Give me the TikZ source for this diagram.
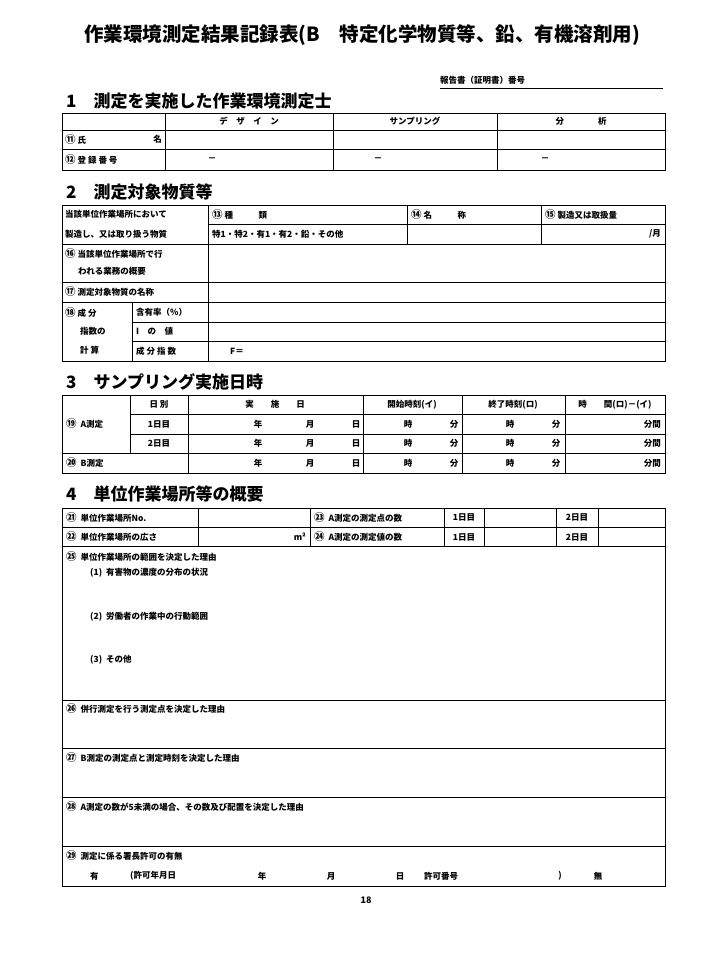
\documentclass[tikz,border=0pt]{standalone}
\usepackage{fontspec}
\setmainfont{Noto Sans CJK JP}
\newcommand\cn[1]{{\fontsize{10.5}{10}\selectfont #1}}
\begin{document}
\begin{tikzpicture}[x=1pt,y=-1pt,
  t/.style={font=\fontsize{8.5}{9}\selectfont\bfseries,inner sep=0pt},
  tl/.style={t,anchor=west},
  tr/.style={t,anchor=east},
  hd/.style={font=\fontsize{17}{18}\selectfont\bfseries,inner sep=0pt,anchor=west},
  ln/.style={line width=0.8pt},
  fr/.style={line width=1pt}]
\useasboundingbox (0,0) rectangle (714,967);
\node[font=\fontsize{19.5}{21}\selectfont\bfseries,inner sep=0pt] (title) at (362,35) {作業環境測定結果記録表(B\quad 特定化学物質等、鉛、有機溶剤用)};
\node[tl] (rep) at (440,80) {報告書（証明書）番号};
\coordinate (ra) at (440,88); \coordinate (rb) at (663,88);
\draw[ln] (ra) -- (rb);
% Section 1
\node[hd] (s1) at (66,101) {1\quad 測定を実施した作業環境測定士};
\draw[fr] (62,113) rectangle (665,170);
\draw[ln] (62,130) -- (665,130) (62,149) -- (665,149);
\draw[ln] (165,113) -- (165,170) (333,113) -- (333,170) (497,113) -- (497,170);
\node[t] (c1) at (249,121.5) {デ\quad ザ\quad イ\quad ン};
\node[t] (c2) at (415,121.5) {サンプリング};
\node[t] (c3) at (581,121.5) {分\qquad\qquad 析};
\node[tl] (r1) at (65,139.5) {\cn{⑪} 氏};
\node[tr] (r1b) at (162,139.5) {名};
\node[tl] (r2) at (65,159.5) {\cn{⑫} 登 録 番 号};
\node[t] (d1) at (212,159.5) {－}; \node[t] (d2) at (378,159.5) {－}; \node[t] (d3) at (545,159.5) {－};
% Section 2
\node[hd] (s2) at (66,192) {2\quad 測定対象物質等};
\draw[fr] (62,205) rectangle (665,361);
\draw[ln] (208,224) -- (665,224) (62,244) -- (665,244) (62,282) -- (665,282) (62,302) -- (665,302)
  (132,322) -- (665,322) (132,341) -- (665,341);
\draw[ln] (208,205) -- (208,361) (407,205) -- (407,244) (541,205) -- (541,244) (132,302) -- (132,361);
\node[tl] (a1) at (65,214.5) {当該単位作業場所において};
\node[tl] (a2) at (65,234) {製造し、又は取り扱う物質};
\node[tl] (a3) at (212,214.5) {\cn{⑬} 種\qquad\quad 類};
\node[tl] (a4) at (411,214.5) {\cn{⑭} 名\qquad\quad 称};
\node[tl] (a5) at (545,214.5) {\cn{⑮} 製造又は取扱量};
\node[tl] (a6) at (212,234) {特1・特2・有1・有2・鉛・その他};
\node[tr] (a7) at (661,234) {/月};
\node[tl] (a8) at (65,254) {\cn{⑯} 当該単位作業場所で行};
\node[tl] (a9) at (78,271) {われる業務の概要};
\node[tl] (a10) at (65,292) {\cn{⑰} 測定対象物質の名称};
\node[tl] (a11) at (65,313) {\cn{⑱} 成\ 分};
\node[tl] (a12) at (80,331.5) {指数の};
\node[tl] (a13) at (80,350) {計\ 算};
\node[tl] (a14) at (136,312) {含有率（\%）};
\node[tl] (a15) at (136,331.5) {\textit{I}\quad の\quad 値};
\node[tl] (a16) at (136,351) {成 分 指 数};
\node[tl] (a17) at (230,351) {\textit{F}＝};
% Section 3
\node[hd] (s3) at (66,382) {3\quad サンプリング実施日時};
\draw[fr] (62,395) rectangle (665,473);
\draw[ln] (130,414) -- (665,414) (130,434) -- (665,434) (62,453) -- (665,453);
\draw[ln] (130,395) -- (130,453) (188,395) -- (188,473) (363,395) -- (363,473) (462,395) -- (462,473) (565,395) -- (565,473);
\node[t] (b1) at (159,404.5) {日\ 別};
\node[t] (b2) at (275,404.5) {実\qquad 施\qquad 日};
\node[t] (b3) at (412,404.5) {開始時刻(イ)};
\node[t] (b4) at (513,404.5) {終了時刻(ロ)};
\node[t] (b5) at (615,404.5) {時\qquad 間(ロ)－(イ)};
\node[tl] (b6) at (66,424) {\cn{⑲}\ \ A測定};
\node[t] (b7) at (159,424) {1日目};
\node[t] (b8) at (159,443.5) {2日目};
\node[tl] (b9) at (66,463) {\cn{⑳}\ \ B測定};
\foreach \y in {424,443.5,463}{
  \node[t] at (258,\y) {年};
  \node[t] at (310,\y) {月};
  \node[t] at (356,\y) {日};
  \node[t] at (408,\y) {時};
  \node[t] at (454,\y) {分};
  \node[t] at (510,\y) {時};
  \node[t] at (556,\y) {分};
  \node[tr] at (661,\y) {分間};
}
% Section 4
\node[hd] (s4) at (66,494) {4\quad 単位作業場所等の概要};
\draw[fr] (62,508) rectangle (665,886);
\draw[ln] (62,527) -- (665,527) (62,546) -- (665,546) (62,700) -- (665,700) (62,748) -- (665,748) (62,797) -- (665,797) (62,846) -- (665,846);
\draw[ln] (198,508) -- (198,546) (310,508) -- (310,546) (444,508) -- (444,546) (484,508) -- (484,546) (556,508) -- (556,546) (598,508) -- (598,546);
\node[tl] (e1) at (66,517.5) {\cn{㉑}\ \ 単位作業場所No.};
\node[tl] (e2) at (66,537) {\cn{㉒}\ \ 単位作業場所の広さ};
\node[tr] (e3) at (306,537) {m²};
\node[tl] (e4) at (314,517.5) {\cn{㉓}\ \ A測定の測定点の数};
\node[tl] (e5) at (314,537) {\cn{㉔}\ \ A測定の測定値の数};
\node[t] (e6) at (464,517.5) {1日目}; \node[t] (e7) at (464,537) {1日目};
\node[t] (e8) at (577,517.5) {2日目}; \node[t] (e9) at (577,537) {2日目};
\node[tl] (f1) at (66,557) {\cn{㉕}\ \ 単位作業場所の範囲を決定した理由};
\node[tl] (f2) at (90,573) {(1)\ \ 有害物の濃度の分布の状況};
\node[tl] (f3) at (90,617) {(2)\ \ 労働者の作業中の行動範囲};
\node[tl] (f4) at (90,660) {(3)\ \ その他};
\node[tl] (g1) at (66,709) {\cn{㉖}\ \ 併行測定を行う測定点を決定した理由};
\node[tl] (g2) at (66,757) {\cn{㉗}\ \ B測定の測定点と測定時刻を決定した理由};
\node[tl] (g3) at (66,806) {\cn{㉘}\ \ A測定の数が5未満の場合、その数及び配置を決定した理由};
\node[tl] (g4) at (66,855) {\cn{㉙}\ \ 測定に係る署長許可の有無};
\node[tl] (h1) at (90,876) {有};
\node[tl] (h2) at (130,876) {(許可年月日};
\node[t] (h3) at (262,876) {年};
\node[t] (h4) at (331,876) {月};
\node[t] (h5) at (400,876) {日};
\node[tl] (h6) at (424,876) {許可番号};
\node[t] (h7) at (560,876) {)};
\node[t] (h8) at (598,876) {無};
\node[font=\fontsize{9}{10}\selectfont\bfseries,inner sep=0pt] (pg) at (366,900) {18};
\end{tikzpicture}
\end{document}
